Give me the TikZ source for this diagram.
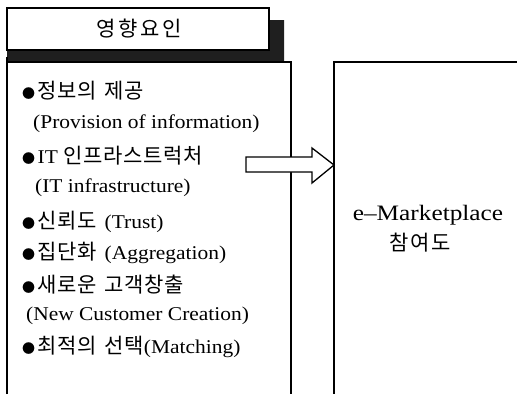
\documentclass[tikz,border=0pt]{standalone}
\usepackage{fontspec}
\setmainfont{Liberation Serif}[FakeStretch=1.1]
\newfontfamily\krf{Noto Sans CJK KR}
\newfontfamily\krsp{Noto Sans CJK KR}[LetterSpace=3]
\newfontfamily\krti{Noto Sans CJK KR}[LetterSpace=12]
\newfontfamily\krpa{Noto Sans CJK KR}[LetterSpace=8]
\newcommand{\kr}[1]{{\krsp\fontsize{21}{22}\selectfont #1}}
\newcommand{\bul}{{\krf\fontsize{13}{14}\selectfont ●}\hspace{2.5pt}}
\newcommand{\ks}{\hspace{0.4em}}
\begin{document}
\begin{tikzpicture}[x=1pt,y=-1pt,
  line/.style={line width=1.3pt},
  item/.style={anchor=west,inner sep=0pt,font=\fontsize{19.5}{21}\selectfont},
  bigtxt/.style={anchor=center,inner sep=0pt}]
\useasboundingbox (0,0) rectangle (517,394);
% shadow of title
\fill[black!88] (7,50) -- (269,50) -- (269,20) -- (284,20) -- (284,62) -- (7,62) -- cycle;
% title box
\draw[line] (7,8) rectangle (269,50);
\node[bigtxt] (title) at (139,29) {{\krti\fontsize{21}{22}\selectfont 영향요인}};
% left box (open at bottom)
\draw[line] (7,394) -- (7,57);
\draw[line] (7,62) -- (291,62) -- (291,394);
% right box
\draw[line] (517,62) -- (334,62) -- (334,394);
% block arrow
\draw[line,fill=white] (246,157) -- (312,157) -- (312,148) -- (334,165) -- (312,183) -- (312,172) -- (246,172) -- cycle;
% items
\node[item] (i1) at (22,91) {\bul\kr{정보의}\ks\kr{제공}};
\node[item] (i2) at (33,124) {(Provision of information)};
\node[item] (i3) at (22,156) {\bul IT\hspace{0.3em}\kr{인프라스트럭처}};
\node[item] (i4) at (35,188) {(IT infrastructure)};
\node[item] (i5) at (22,222) {\bul\kr{신뢰도}\ks(Trust)};
\node[item] (i6) at (22,253) {\bul\kr{집단화}\ks(Aggregation)};
\node[item] (i7) at (22,285) {\bul\kr{새로운}\ks\kr{고객창출}};
\node[item] (i8) at (26,316) {(New Customer Creation)};
\node[item] (i9) at (22,347) {\bul\kr{최적의}\ks\kr{선택}(Matching)};
% right text
\node[bigtxt,font=\fontsize{22}{24}\selectfont\addfontfeature{FakeStretch=1.15}] (em) at (428,215) {e{\char"2013}Marketplace};
\node[bigtxt] (part) at (420,243) {{\krpa\fontsize{21}{22}\selectfont 참여도}};
\end{tikzpicture}
\end{document}
